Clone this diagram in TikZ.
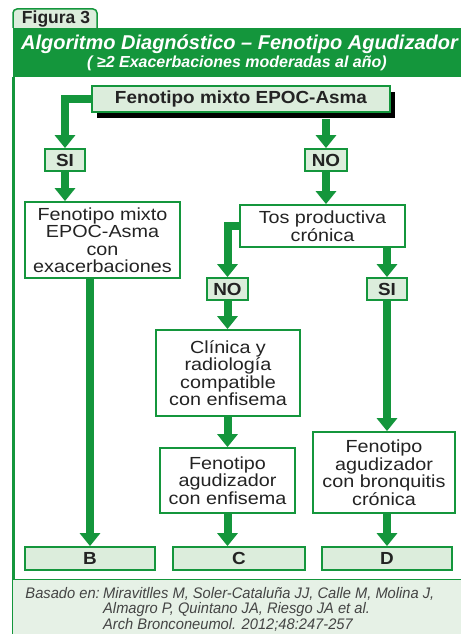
\documentclass[tikz,border=0pt]{standalone}
\usepackage{fontspec}
\setmainfont{Liberation Sans}
\newfontfamily\narrowfont[FakeStretch=0.96]{Liberation Sans}
\newfontfamily\widefont[FakeStretch=1.13]{Liberation Sans}
\newfontfamily\widebold[FakeStretch=1.08]{Liberation Sans}
\usetikzlibrary{arrows.meta,shadows}
\definecolor{gr}{RGB}{20,150,60}
\definecolor{lgr}{RGB}{220,237,220}
\definecolor{ftr}{RGB}{230,241,230}
\definecolor{txt}{RGB}{35,35,35}
\begin{document}
\begin{tikzpicture}[x=1pt,y=-1pt,
 box/.style={draw=gr,line width=1.8pt,fill=white,inner sep=0pt,align=center,text=txt,font=\widefont\fontsize{17.5}{17.5}\selectfont},
 lbox/.style={box,fill=lgr,font=\widebold\bfseries\fontsize{17.5}{17.5}\selectfont},
 arr/.style={draw=gr,line width=8pt,-{Triangle[width=20pt,length=13pt]}},
 foot/.style={text=txt!85,font=\narrowfont\itshape\fontsize{15.3}{15.3}\selectfont,inner sep=0pt}
]
\useasboundingbox (0,0) rectangle (461,634);
\fill[white] (0,0) rectangle (461,634);
% tab
\draw[gr,fill=lgr,line width=1.5pt,rounded corners=4pt] (13,28) -- (13,9) -- (97,9) -- (97,28);
\node[font=\bfseries\fontsize{17.5}{17.5}\selectfont,text=txt] (tab) at (56,19) {Figura 3};
% banner
\fill[gr] (13,28) rectangle (461,77);
\node[font=\bfseries\itshape\fontsize{20}{20}\selectfont,text=white] (title) at (239.5,44) {Algoritmo Diagnóstico – Fenotipo Agudizador};
\node[font=\bfseries\itshape\fontsize{16}{16}\selectfont,text=white] (subtitle) at (237,63) {( ≥2 Exacerbaciones moderadas al año)};
% frame
\draw[gr,line width=2.5pt] (13.5,77) -- (13.5,634);
\fill[ftr] (13,579) rectangle (461,634);
\draw[gr,line width=1pt] (13,579) -- (461,579);
% nodes
\node[lbox,minimum width=298pt,minimum height=26pt,drop shadow={fill=black,opacity=1,shadow xshift=5pt,shadow yshift=-6pt}] (top) at (241,99) {Fenotipo mixto EPOC-Asma};
\node[lbox,minimum width=40pt,minimum height=22pt] (SI1) at (65,160) {SI};
\node[lbox,minimum width=42pt,minimum height=22pt] (NO1) at (326,160) {NO};
\node[box,minimum width=155pt,minimum height=76pt] (A) at (102.5,240) {Fenotipo mixto\\EPOC-Asma\\con\\exacerbaciones};
\node[box,minimum width=165pt,minimum height=42pt] (Tos) at (322.5,226) {Tos productiva\\crónica};
\node[lbox,minimum width=41pt,minimum height=22pt] (NO2) at (227.5,289) {NO};
\node[lbox,minimum width=40pt,minimum height=22pt] (SI2) at (387,289) {SI};
\node[box,minimum width=144pt,minimum height=86pt] (Cl) at (228,373) {Clínica y\\radiología\\compatible\\con enfisema};
\node[box,minimum width=135pt,minimum height=65pt] (En) at (227.5,480.5) {Fenotipo\\agudizador\\con enfisema};
\node[box,minimum width=142pt,minimum height=81pt] (Br) at (384,472.5) {Fenotipo\\agudizador\\con bronquitis\\crónica};
\node[lbox,minimum width=130pt,minimum height=23pt] (B) at (90,558.5) {B};
\node[lbox,minimum width=132pt,minimum height=23pt] (C) at (239,558.5) {C};
\node[lbox,minimum width=130pt,minimum height=23pt] (D) at (387,558.5) {D};
% arrows
\draw[arr] (top.west) -| (SI1.north);
\draw[arr] ([yshift=-6pt]top.south -| NO1.north) -- (NO1.north);
\draw[arr] (SI1.south) -- (SI1.south |- A.north);
\draw[arr] (NO1.south) -- (NO1.south |- Tos.north);
\draw[arr] (Tos.west) -| (NO2.north);
\draw[arr] (Tos.south -| SI2.north) -- (SI2.north);
\draw[arr] (A.south -| B.north) -- (B.north);
\draw[arr] (NO2.south) -- (NO2.south |- Cl.north);
\draw[arr] (Cl.south -| En.north) -- (En.north);
\draw[arr] (SI2.south) -- (SI2.south |- Br.north);
\draw[arr] (En.south) -- (En.south |- C.north);
\draw[arr] (Br.south -| D.north) -- (D.north);
% footer
\node[foot,anchor=base east] (bas) at (100,598) {Basado en:};
\node[foot,anchor=base west] (ref1) at (103,598) {Miravitlles M, Soler-Cataluña JJ, Calle M, Molina J,};
\node[foot,anchor=base west] (ref2) at (103,613.5) {Almagro P, Quintano JA, Riesgo JA et al.};
\node[foot,anchor=base west] (ref3) at (103,629) {Arch Bronconeumol. 2012;48:247-257};
\end{tikzpicture}
\end{document}
